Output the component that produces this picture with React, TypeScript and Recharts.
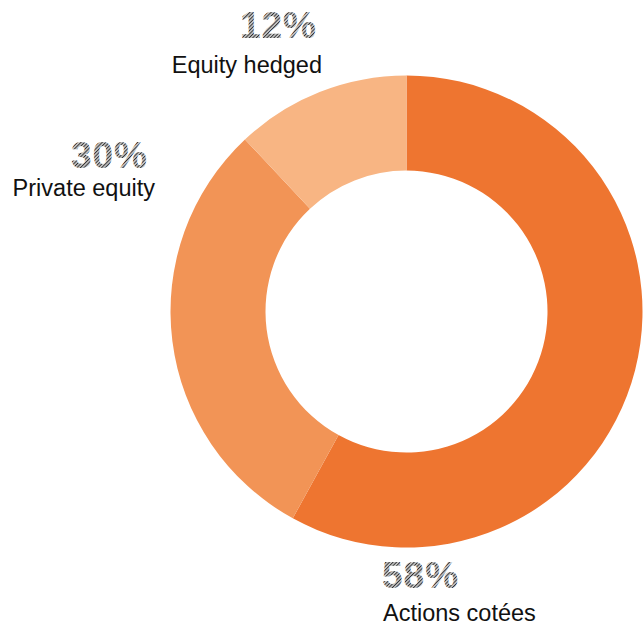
import { PieChart, Pie, Cell } from "recharts";

const categories = ["Actions cotées", "Private equity", "Equity hedged"];
const shares = [58, 30, 12];
const COLORS = ["#ee7530", "#f29456", "#f8b583"];

// label placement relative to pie centre
const LABEL_POS = [
  { anchor: "start", pctX: -24.5, nameX: -23.5, pctY: 276.5, nameY: 309 },
  { anchor: "end", pctX: -258.5, nameX: -251.5, pctY: -143.5, nameY: -115.5 },
  { anchor: "end", pctX: -89.5, nameX: -84.5, pctY: -273.5, nameY: -238.5 },
];

const data = categories.map((name, i) => ({ name, value: shares[i] }));

function renderLabel(props: any) {
  const { cx, cy, index, value, name } = props;
  const p = LABEL_POS[index];
  return (
    <g key={`lbl-${index}`}>
      <text
        x={cx + p.pctX}
        y={cy + p.pctY}
        textAnchor={p.anchor}
        fontFamily="Liberation Sans, Arial, sans-serif"
        fontWeight="bold"
        fontSize={37}
        letterSpacing={1}
        fill="url(#hatch)"
      >
        {value}%
      </text>
      <text
        x={cx + p.nameX}
        y={cy + p.nameY}
        textAnchor={p.anchor}
        fontFamily="Liberation Sans, Arial, sans-serif"
        fontSize={23.5}
        fill="#111"
      >
        {name}
      </text>
    </g>
  );
}

export default function App() {
  return (
    <div style={{ position: "absolute", left: 0, top: 0, background: "#fff" }}>
      <PieChart width={643} height={627} margin={{ top: 0, right: 0, bottom: 0, left: 0 }}>
        <defs>
          <pattern
            id="hatch"
            patternUnits="userSpaceOnUse"
            width={2.5}
            height={2.5}
            patternTransform="rotate(45)"
          >
            <rect width={2.5} height={2.5} fill="#c4c4c4" />
            <line x1={0} y1={0} x2={0} y2={2.5} stroke="#2e2e2e" strokeWidth={1.8} />
          </pattern>
        </defs>
        <Pie
          data={data}
          dataKey="value"
          nameKey="name"
          cx={406.5}
          cy={311.5}
          innerRadius={141}
          outerRadius={236}
          startAngle={90}
          endAngle={-270}
          stroke="none"
          label={renderLabel}
          labelLine={false}
          isAnimationActive={false}
        >
          {data.map((d, i) => (
            <Cell key={d.name} fill={COLORS[i]} />
          ))}
        </Pie>
      </PieChart>
    </div>
  );
}
